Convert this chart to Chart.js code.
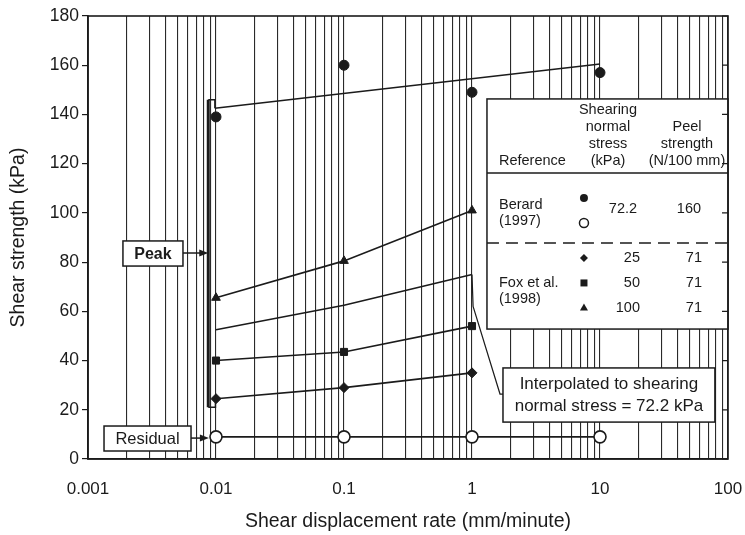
<!DOCTYPE html>
<html>
<head>
<meta charset="utf-8">
<script src="https://cdn.jsdelivr.net/npm/chart.js@4"></script>
<style>
  html, body { margin: 0; padding: 0; background: #fff; }
  #wrap { width: 745px; height: 535px; }
</style>
</head>
<body>
<div id="wrap"><canvas id="c" width="745" height="535"></canvas></div>
<script>
// Shear strength versus shear displacement rate
const berardRates = [0.01, 0.1, 1, 10];
const berardPeak = [139, 160, 149, 157];
const berardResidual = [9, 9, 9, 9];
const foxRates = [0.01, 0.1, 1];
const fox25 = [24.5, 29, 35];
const fox50 = [40, 43.5, 54];
const fox100 = [65.5, 80.5, 101];
const interpolated722 = [52.5, 62.5, 75];
const peakFitRates = [0.0098, 10];
const peakFit = [142.5, 160.5];
const xTickLabels = ['0.001', '0.01', '0.1', '1', '10', '100'];
const yTickValues = [0, 20, 40, 60, 80, 100, 120, 140, 160, 180];

const FONT = '"Liberation Sans", Arial, Helvetica, sans-serif';
const INK = '#1b1b1b';

function pts(xs, ys) { return xs.map((x, i) => ({ x: x, y: ys[i] })); }

// log-scale tick positions 1..9 x 10^n for the grid
const decades = xTickLabels.map(Number);
const gridTicks = [];
decades.forEach((d, i) => {
  if (i === decades.length - 1) { gridTicks.push(d); return; }
  for (let m = 1; m <= 9; m++) gridTicks.push(+(m * d).toPrecision(3));
});

function lineSet(data, style, radius, extra) {
  return Object.assign({
    data: data,
    borderColor: INK,
    backgroundColor: INK,
    borderWidth: 1.6,
    pointStyle: style,
    pointRadius: radius,
    pointBorderWidth: 1,
    pointBorderColor: INK,
    pointBackgroundColor: INK,
    showLine: true,
    tension: 0,
    fill: false
  }, extra || {});
}

const annotations = {
  id: 'annotations',
  afterDatasetsDraw(chart) {
    const ctx = chart.ctx;
    const xs = chart.scales.x, ys = chart.scales.y;
    const X = v => xs.getPixelForValue(v);
    const Y = v => ys.getPixelForValue(v);
    const area = chart.chartArea;
    ctx.save();
    ctx.strokeStyle = INK;
    ctx.fillStyle = INK;
    ctx.lineJoin = 'miter';

    // bracket grouping the peak values
    ctx.lineWidth = 3;
    ctx.beginPath();
    ctx.moveTo(X(0.0087), Y(146));
    ctx.lineTo(X(0.0087), Y(21));
    ctx.stroke();
    ctx.lineWidth = 1.5;
    ctx.beginPath();
    ctx.moveTo(X(0.0098), Y(142.5));
    ctx.lineTo(X(0.0098), Y(146));
    ctx.lineTo(X(0.0087), Y(146));
    ctx.moveTo(X(0.0087), Y(21));
    ctx.lineTo(X(0.0099), Y(21));
    ctx.lineTo(X(0.0099), Y(23));
    ctx.stroke();

    function box(x0, x1, y0, y1) {
      const l = X(x0), r = X(x1), t = Y(y0), b = Y(y1);
      ctx.fillStyle = '#fff';
      ctx.fillRect(l, t, r - l, b - t);
      ctx.lineWidth = 1.5;
      ctx.strokeStyle = INK;
      ctx.strokeRect(l, t, r - l, b - t);
      ctx.fillStyle = INK;
      return { l, r, t, b };
    }
    function arrow(x0, x1, yv) {
      const a = X(x0), b = X(x1), y = Y(yv);
      ctx.lineWidth = 1.5;
      ctx.beginPath();
      ctx.moveTo(a, y);
      ctx.lineTo(b - 6, y);
      ctx.stroke();
      ctx.beginPath();
      ctx.moveTo(b, y);
      ctx.lineTo(b - 9, y - 3.5);
      ctx.lineTo(b - 9, y + 3.5);
      ctx.closePath();
      ctx.fill();
    }

    // "Peak" label
    let bx = box(0.001875, 0.00552, 88.6, 78.4);
    ctx.font = 'bold 16px ' + FONT;
    ctx.textAlign = 'center';
    ctx.textBaseline = 'middle';
    ctx.fillText('Peak', (bx.l + bx.r) / 2, (bx.t + bx.b) / 2 + 1);
    arrow(0.00552, 0.0087, 83.7);

    // "Residual" label
    bx = box(0.001334, 0.00638, 13.4, 3.25);
    ctx.font = '16.5px ' + FONT;
    ctx.fillText('Residual', (bx.l + bx.r) / 2, (bx.t + bx.b) / 2 + 1);
    arrow(0.00638, 0.0088, 8.5);

    // callout to the interpolated curve
    ctx.lineWidth = 1.2;
    ctx.beginPath();
    ctx.moveTo(X(1), Y(75));
    ctx.lineTo(X(1.02), Y(62));
    ctx.lineTo(X(1.655), Y(26.4));
    ctx.lineTo(X(1.746), Y(26.4));
    ctx.stroke();

    bx = box(1.746, 79, 37, 15);
    ctx.font = '17px ' + FONT;
    ctx.textAlign = 'center';
    const cx = (bx.l + bx.r) / 2;
    ctx.fillText('Interpolated to shearing', cx, bx.t + 16);
    ctx.fillText('normal stress = 72.2 kPa', cx, bx.t + 38);

    // key table
    const L = X(1.309), R = area.right, T = Y(146.3), B = Y(52.8);
    ctx.fillStyle = '#fff';
    ctx.fillRect(L, T, R - L, B - T);
    ctx.lineWidth = 1.5;
    ctx.strokeStyle = INK;
    ctx.strokeRect(L, T, R - L, B - T);
    ctx.fillStyle = INK;
    ctx.beginPath();
    ctx.moveTo(L, T + 74);
    ctx.lineTo(R, T + 74);
    ctx.stroke();
    ctx.setLineDash([12, 7]);
    ctx.beginPath();
    ctx.moveTo(L, T + 144);
    ctx.lineTo(R, T + 144);
    ctx.stroke();
    ctx.setLineDash([]);

    ctx.font = '14.5px ' + FONT;
    ctx.textBaseline = 'middle';
    ctx.textAlign = 'center';
    ctx.fillText('Shearing', L + 121, T + 11);
    ctx.fillText('normal', L + 121, T + 28);
    ctx.fillText('stress', L + 121, T + 45);
    ctx.fillText('(kPa)', L + 121, T + 62);
    ctx.fillText('Peel', L + 200, T + 28);
    ctx.fillText('strength', L + 200, T + 45);
    ctx.fillText('(N/100 mm)', L + 200, T + 62);
    ctx.textAlign = 'left';
    ctx.fillText('Reference', L + 12, T + 62);
    ctx.fillText('Berard', L + 12, T + 106);
    ctx.fillText('(1997)', L + 12, T + 122);
    ctx.fillText('Fox et al.', L + 12, T + 184);
    ctx.fillText('(1998)', L + 12, T + 200);
    ctx.textAlign = 'center';
    ctx.fillText('72.2', L + 136, T + 110);
    ctx.fillText('160', L + 202, T + 110);
    ctx.textAlign = 'right';
    [['25', 159], ['50', 184], ['100', 209]].forEach(r => {
      ctx.fillText(r[0], L + 153, T + r[1]);
      ctx.fillText('71', L + 215, T + r[1]);
    });

    // key symbols
    const mx = L + 97;
    ctx.beginPath(); ctx.arc(mx, T + 99, 4, 0, Math.PI * 2); ctx.fill();
    ctx.lineWidth = 1.5;
    ctx.beginPath(); ctx.arc(mx, T + 124, 4.5, 0, Math.PI * 2); ctx.stroke();
    ctx.beginPath();
    ctx.moveTo(mx, T + 155); ctx.lineTo(mx + 4, T + 159);
    ctx.lineTo(mx, T + 163); ctx.lineTo(mx - 4, T + 159); ctx.closePath(); ctx.fill();
    ctx.fillRect(mx - 3.5, T + 180.5, 7, 7);
    ctx.beginPath();
    ctx.moveTo(mx, T + 204.5); ctx.lineTo(mx + 4, T + 211.5);
    ctx.lineTo(mx - 4, T + 211.5); ctx.closePath(); ctx.fill();

    ctx.restore();
  },
  afterDraw(chart) {
    const ctx = chart.ctx, a = chart.chartArea;
    const ys = chart.scales.y;
    ctx.save();
    ctx.strokeStyle = INK;
    ctx.lineWidth = 1.6;
    ctx.strokeRect(a.left, a.top, a.right - a.left, a.bottom - a.top);
    // inward ticks along the right edge
    ctx.lineWidth = 1.2;
    ctx.beginPath();
    yTickValues.forEach(v => {
      const y = ys.getPixelForValue(v);
      ctx.moveTo(a.right, y);
      ctx.lineTo(a.right - 6, y);
    });
    ctx.stroke();
    ctx.restore();
  }
};

new Chart(document.getElementById('c'), {
  type: 'line',
  data: {
    datasets: [
      lineSet(pts(peakFitRates, peakFit), 'circle', 0),
      lineSet(pts(berardRates, berardPeak), 'circle', 5, { showLine: false }),
      lineSet(pts(berardRates, berardResidual), 'circle', 6, { pointBackgroundColor: '#fff', pointBorderWidth: 1.6 }),
      lineSet(pts(foxRates, fox25), 'rectRot', 5),
      lineSet(pts(foxRates, fox50), 'rect', 5),
      lineSet(pts(foxRates, fox100), 'triangle', 5),
      lineSet(pts(foxRates, interpolated722), 'circle', 0)
    ]
  },
  options: {
    responsive: false,
    animation: false,
    devicePixelRatio: 1,
    layout: { padding: { left: 0, right: 17, top: 16, bottom: 0 } },
    plugins: { legend: { display: false }, tooltip: { enabled: false } },
    scales: {
      x: {
        type: 'logarithmic',
        min: 0.001,
        max: 100,
        afterBuildTicks: s => { s.ticks = gridTicks.map(v => ({ value: v })); },
        afterFit: s => { s.height = 76; s.paddingLeft = 0; s.paddingRight = 0; },
        grid: { color: '#2a2a2a', lineWidth: 1.1, drawTicks: false },
        border: { color: INK, width: 1.6 },
        ticks: {
          autoSkip: false,
          maxRotation: 0,
          padding: 20,
          color: INK,
          font: { family: FONT, size: 17 },
          callback: v => {
            const i = decades.findIndex(d => Math.abs(d - v) / d < 1e-6);
            return i >= 0 ? xTickLabels[i] : '';
          }
        },
        title: {
          display: true,
          text: 'Shear displacement rate (mm/minute)',
          color: INK,
          font: { family: FONT, size: 19.5 },
          padding: { top: 0, bottom: 2 }
        }
      },
      y: {
        min: 0,
        max: 180,
        afterBuildTicks: s => { s.ticks = yTickValues.map(v => ({ value: v })); },
        afterFit: s => { s.width = 88; s.paddingTop = 0; s.paddingBottom = 0; },
        grid: { drawOnChartArea: false, drawTicks: true, tickLength: 6, color: INK, lineWidth: 1.2 },
        border: { color: INK, width: 1.6 },
        ticks: {
          padding: 3,
          color: INK,
          font: { family: FONT, size: 17.5 }
        },
        title: {
          display: true,
          text: 'Shear strength (kPa)',
          color: INK,
          font: { family: FONT, size: 19.5 },
          padding: { top: 7, bottom: 4 }
        }
      }
    }
  },
  plugins: [annotations]
});
</script>
</body>
</html>
